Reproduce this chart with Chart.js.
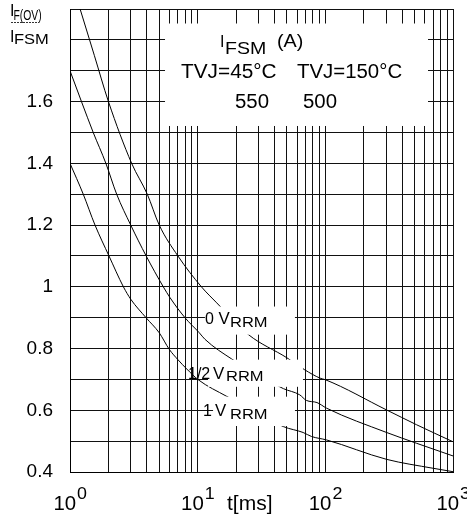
<!DOCTYPE html>
<html>
<head>
<meta charset="utf-8">
<script src="https://cdn.jsdelivr.net/npm/chart.js@4.4.1/dist/chart.umd.min.js"></script>
<style>
  html, body { margin: 0; padding: 0; background: #fff; }
  canvas { display: block; }
</style>
</head>
<body>
<canvas id="surgeChart" width="467" height="518"></canvas>
<script>
// t[ms] and I_F(OV)/I_FSM, one pair of arrays per curve
const tZero = [1.2, 1.55, 2.0, 3.04, 4.03, 5.0, 7.0, 10.7, 14.1, 25, 50, 69, 91, 100, 302, 519, 1000];
const vZero = [1.9, 1.75, 1.6, 1.4, 1.3, 1.2, 1.1, 1.0, 0.948, 0.845, 0.770, 0.731, 0.704, 0.699, 0.601, 0.553, 0.498];

const tHalf = [1, 1.23, 1.52, 1.91, 2.32, 2.99, 3.95, 5.38, 6.07, 7.95, 10.3, 11.4, 18.5, 30, 47, 63, 71, 86, 102, 302, 519, 1000];
const vHalf = [1.7, 1.6, 1.5, 1.4, 1.3, 1.2, 1.1, 1.0, 0.965, 0.9, 0.851, 0.83, 0.766, 0.715, 0.670, 0.650, 0.632, 0.625, 0.607, 0.528, 0.493, 0.452];

const tOne = [1, 1.27, 1.57, 2.02, 2.62, 3.0, 3.94, 5.0, 6.0, 7.0, 8.2, 10.1, 16.9, 30, 47, 67, 78, 102, 302, 700, 1000];
const vOne = [1.4, 1.3, 1.2, 1.1, 1.0, 0.959, 0.9, 0.851, 0.797, 0.764, 0.734, 0.699, 0.645, 0.59, 0.547, 0.528, 0.515, 0.504, 0.441, 0.412, 0.401];

const xDecadeExps = [0, 1, 2, 3];
const xMinorSteps = [1, 2, 3, 4, 5, 6, 7, 8, 9];
const yTickLabels = ['0.4', '0.6', '0.8', '1', '1.2', '1.4', '1.6'];

const FONT = "'Liberation Sans', Arial, Helvetica, sans-serif";

// white patches behind the texts, in axis units [t0, t1, v0, v1]
const whiteBoxes = [
    [5.55, 637, 1.853, 1.521],
    [11.4, 57.8, 0.936, 0.845],
    [12.05, 66.8, 0.764, 0.676],
    [13.2, 57.8, 0.644, 0.549]
];

// [text, x, baseline, size, horizontal stretch]
const texts = [
    ['I', 220, 47, 16, 1],
    ['FSM', 225, 53.5, 17, 1.15],
    ['(A)', 277, 47, 18, 1.1],
    ['TVJ=45°C', 181, 77.5, 20, 1.04],
    ['TVJ=150°C', 297, 77.5, 20, 1.02],
    ['550', 235, 108, 20, 1.02],
    ['500', 303, 108, 20, 1.02],
    ['0', 205, 323.5, 16, 1],
    ['V', 218.5, 323.5, 16, 1.05],
    ['RRM', 230, 326.5, 15, 1.1],
    ['1/2', 188, 378.5, 16, 1],
    ['V', 213, 378.5, 16, 1.05],
    ['RRM', 226, 380.5, 15, 1.1],
    ['1', 203, 415.5, 16, 1],
    ['V', 215, 415.5, 16, 1.05],
    ['RRM', 230, 418.5, 15, 1.1],
    ['I', 10, 15.5, 16, 1],
    ['F(OV)', 13.5, 20, 14, 0.74],
    ['I', 10, 41.5, 16, 1],
    ['FSM', 14, 44, 15, 1.1],
    ['t[ms]', 227, 510, 20, 1.05]
];

const drawText = (ctx, s, x, y, size, sx) => {
    ctx.save();
    ctx.font = size + 'px ' + FONT;
    ctx.translate(x, y);
    ctx.scale(sx, 1);
    ctx.fillText(s, 0, 0);
    ctx.restore();
};

const toPoints = (ts, vs) => ts.map((t, i) => ({ x: t, y: vs[i] }));

const overlay = {
    id: 'overlay',
    afterDatasetsDraw(chart) {
        const { ctx, scales: { x, y } } = chart;
        ctx.save();
        ctx.fillStyle = '#fff';
        whiteBoxes.forEach(b => {
            const x0 = x.getPixelForValue(b[0]);
            const x1 = x.getPixelForValue(b[1]);
            const y0 = y.getPixelForValue(b[2]);
            const y1 = y.getPixelForValue(b[3]);
            ctx.fillRect(x0, y0, x1 - x0, y1 - y0);
        });
        ctx.restore();
    },
    afterDraw(chart) {
        const { ctx, scales: { x } } = chart;
        ctx.save();
        ctx.fillStyle = '#000';
        ctx.textAlign = 'left';
        ctx.textBaseline = 'alphabetic';
        texts.forEach(t => drawText(ctx, t[0], t[1], t[2], t[3], t[4]));

        // fraction bar of the y title
        ctx.strokeStyle = '#333';
        ctx.lineWidth = 1;
        ctx.setLineDash([2, 1]);
        ctx.beginPath();
        ctx.moveTo(11, 22.5);
        ctx.lineTo(39, 22.5);
        ctx.stroke();
        ctx.setLineDash([]);

        // decade labels 10^n
        xDecadeExps.forEach(e => {
            const px = x.getPixelForValue(Math.pow(10, e));
            ctx.font = '20px ' + FONT;
            const wBase = ctx.measureText('10').width * 1.02;
            ctx.font = '17px ' + FONT;
            const wExp = ctx.measureText(String(e)).width;
            const left = px - (wBase + 1 + wExp) / 2;
            drawText(ctx, '10', left, 510, 20, 1.02);
            drawText(ctx, String(e), left + wBase + 1, 498.5, 17, 1.05);
        });
        ctx.restore();
    }
};

const lineStyle = {
    borderColor: '#000',
    borderWidth: 1,
    pointRadius: 0,
    fill: false,
    cubicInterpolationMode: 'monotone'
};

new Chart(document.getElementById('surgeChart'), {
    type: 'line',
    data: {
        datasets: [
            { label: '0 VRRM', data: toPoints(tZero, vZero), ...lineStyle },
            { label: '1/2 VRRM', data: toPoints(tHalf, vHalf), ...lineStyle },
            { label: '1 VRRM', data: toPoints(tOne, vOne), ...lineStyle }
        ]
    },
    options: {
        responsive: false,
        animation: false,
        layout: { padding: { left: 0, right: 14, top: 9, bottom: 0 } },
        plugins: {
            legend: { display: false },
            tooltip: { enabled: false }
        },
        scales: {
            x: {
                type: 'logarithmic',
                min: 1,
                max: 1000,
                afterBuildTicks: scale => {
                    const ticks = [];
                    xDecadeExps.slice(0, -1).forEach(e => {
                        xMinorSteps.forEach(m => ticks.push({ value: m * Math.pow(10, e) }));
                    });
                    ticks.push({ value: Math.pow(10, xDecadeExps[xDecadeExps.length - 1]) });
                    scale.ticks = ticks;
                },
                afterFit: scale => {
                    scale.height = 46;
                    scale.paddingLeft = 0;
                    scale.paddingRight = 0;
                },
                ticks: { display: false },
                grid: { color: '#111', lineWidth: 1, drawTicks: false },
                border: { color: '#000', width: 1 }
            },
            y: {
                type: 'linear',
                min: 0.4,
                max: 1.9,
                ticks: {
                    stepSize: 0.1,
                    padding: 17,
                    color: '#000',
                    font: { family: FONT, size: 19 },
                    callback: v => {
                        const hit = yTickLabels.find(l => Math.abs(parseFloat(l) - v) < 1e-6);
                        return hit === undefined ? '' : hit;
                    }
                },
                afterFit: scale => {
                    scale.width = 70;
                    scale.paddingTop = 0;
                    scale.paddingBottom = 0;
                },
                grid: { color: '#111', lineWidth: 1, drawTicks: false },
                border: { color: '#000', width: 1 }
            }
        }
    },
    plugins: [overlay]
});
</script>
</body>
</html>
